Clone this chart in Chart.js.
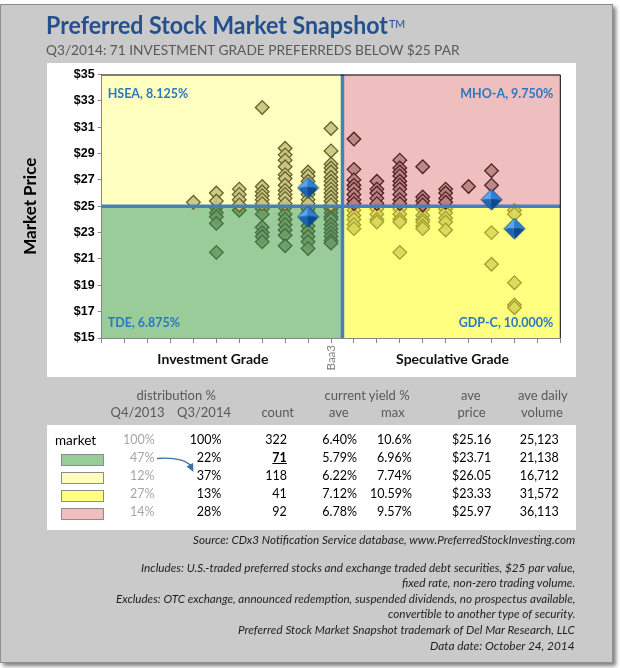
<!DOCTYPE html>
<html>
<head>
<meta charset="utf-8">
<script src="https://cdn.jsdelivr.net/npm/chart.js@4.4.0/dist/chart.umd.min.js"></script>
<style>
html,body{margin:0;padding:0;background:#fff;width:620px;height:668px;overflow:hidden;font-family:Lato,'Open Sans',sans-serif;}
#frame{position:absolute;left:0;top:4px;width:613px;height:659px;background:#cacaca;border:1px solid #8f8f8f;box-sizing:border-box;box-shadow:3px 3px 4px rgba(0,0,0,0.5);}
#chartBox{position:absolute;left:47px;top:63px;width:529px;height:314px;background:#fff;}
#tableBox{position:absolute;left:47px;top:425px;width:529px;height:105px;background:#fff;}
#c{position:absolute;left:0;top:0;}
.sw{position:absolute;width:43px;height:12px;border:1px solid #8c8c8c;box-sizing:border-box;}
.t{position:absolute;white-space:nowrap;}
svg{position:absolute;left:0;top:0;}
</style>
</head>
<body>
<div id="frame"></div>
<div id="chartBox"></div>
<div id="tableBox"></div>
<canvas id="c" width="620" height="390"></canvas>
<svg width="620" height="668">
  <path d="M157,458.5 C172,457.5 184,459 190.5,465" fill="none" stroke="#3f6ea8" stroke-width="1.3"/>
  <polygon points="193.5,472 186.5,466.5 193,463" fill="#3f6ea8"/>
</svg>
<script>
// ---------------- DATA ----------------
const chartTitle = 'Preferred Stock Market Snapshot';
const chartSubtitle = 'Q3/2014: 71 INVESTMENT GRADE PREFERREDS BELOW $25 PAR';
const yTitle = 'Market Price';
const xTitles = ['Investment Grade', 'Speculative Grade'];
const baaSlot = 10;
const baaLabel = 'Baa3';
const parValue = 25;
const gradeSplit = 10.5;
const yMin = 15, yMax = 35, yStep = 2;
const xMin = 0, xMax = 20;

// rating slots (x) and market prices (y) of each preferred
const igSlots = [4, 5, 6, 7, 8, 9, 10];
const igPrices = [
  [25.3],
  [26.0, 25.4, 24.9, 24.5, 24.2, 23.7, 21.5],
  [26.3, 25.9, 25.5, 25.1, 24.7],
  [32.5, 26.5, 26.1, 25.8, 25.5, 25.2, 24.8, 24.4, 23.4, 23.0, 22.7, 22.3],
  [29.4, 28.9, 28.5, 28.0, 27.4, 27.1, 26.6, 26.2, 25.9, 25.6, 25.2, 24.9, 24.4, 24.0, 23.6, 23.2, 22.8, 22.0],
  [27.6, 27.3, 26.9, 26.5, 26.2, 25.9, 25.5, 25.2, 24.8, 24.5, 24.0, 23.5, 23.1, 22.7, 22.3, 21.8],
  [30.9, 29.2, 28.2, 27.9, 27.6, 27.2, 26.9, 26.6, 26.3, 26.0, 25.7, 25.4, 25.1, 24.8, 24.5, 24.2, 24.0, 23.6, 23.3, 23.0, 22.7, 22.4, 22.2]
];
const specSlots = [11, 12, 13, 14, 15, 16, 17, 18];
const specPrices = [
  [30.1, 27.8, 27.0, 26.6, 26.3, 25.9, 25.5, 25.2, 24.7, 24.3, 24.0, 23.6, 23.3],
  [26.9, 26.3, 26.0, 25.6, 25.2, 24.8, 24.4, 24.0, 23.8],
  [28.5, 27.9, 27.6, 27.3, 26.9, 26.6, 26.3, 25.9, 25.5, 25.2, 24.8, 24.4, 24.0, 23.8, 21.5],
  [28.0, 25.7, 25.4, 25.1, 24.8, 24.3, 24.0, 23.8, 23.5, 23.3],
  [26.3, 26.0, 25.6, 25.3, 24.8, 24.5, 24.1, 23.8, 23.2],
  [26.5],
  [27.7, 26.6, 23.0, 20.6],
  [24.7, 24.4, 19.2, 17.5, 17.3]
];
const highlightNames = ['HSEA, 8.125%', 'MHO-A, 9.750%', 'TDE, 6.875%', 'GDP-C, 10.000%'];
const highlightSlots = [9, 17, 9, 18];
const highlightPrices = [26.4, 25.5, 24.2, 23.3];

// table
const headTop = ['distribution %', 'current yield %', 'ave', 'ave daily'];
const headBottom = ['Q4/2013', 'Q3/2014', 'count', 'ave', 'max', 'price', 'volume'];
const rowNames = ['market', 'ig-below', 'ig-above', 'spec-below', 'spec-above'];
const distQ4_2013 = ['100%', '47%', '12%', '27%', '14%'];
const distQ3_2014 = ['100%', '22%', '37%', '13%', '28%'];
const counts = ['322', '71', '118', '41', '92'];
const aveYield = ['6.40%', '5.79%', '6.22%', '7.12%', '6.78%'];
const maxYield = ['10.6%', '6.96%', '7.74%', '10.59%', '9.57%'];
const avePrice = ['$25.16', '$23.71', '$26.05', '$23.33', '$25.97'];
const aveVolume = ['25,123', '21,138', '16,712', '31,572', '36,113'];

const footerLines = [
  'Source:  CDx3 Notification Service database, www.PreferredStockInvesting.com',
  'Includes: U.S.-traded preferred stocks and exchange traded debt securities, $25 par value,',
  'fixed rate, non-zero trading volume.',
  'Excludes: OTC exchange, announced  redemption, suspended dividends, no prospectus available,',
  'convertible to another type of security.',
  'Preferred Stock Market Snapshot trademark of Del Mar Research, LLC',
  'Data date: October 24, 2014'
];

// ---------------- STYLE ----------------
const quadColors = { igAbove: '#ffffc0', igBelow: '#99cc99', specAbove: '#efbebe', specBelow: '#ffff80' };
const markFill = { igAbove: 'rgba(200,197,128,0.92)', igBelow: 'rgba(106,156,101,0.92)', specAbove: 'rgba(186,130,130,0.92)', specBelow: 'rgba(218,216,90,0.92)' };
const markLine = { igAbove: '#66612b', igBelow: '#456c40', specAbove: '#512020', specBelow: '#a39e30' };

function split(slots, prices, above) {
  const out = [];
  slots.forEach((s, i) => prices[i].forEach(p => { if ((p > parValue) === above) out.push({ x: s, y: p }); }));
  return out;
}

function blueDiamond() {
  const r = 10.5, c = document.createElement('canvas');
  c.width = 23; c.height = 23;
  const g = c.getContext('2d'), m = 11.5;
  const L = [m - r, m], T = [m, m - r], R = [m + r, m], B = [m, m + r], C = [m - 1, m - 1];
  const tri = (a, b, col) => { g.beginPath(); g.moveTo(C[0], C[1]); g.lineTo(a[0], a[1]); g.lineTo(b[0], b[1]); g.closePath(); g.fillStyle = col; g.fill(); };
  tri(L, T, '#5aa6ee'); tri(T, R, '#2a80d6'); tri(L, B, '#1d66b6'); tri(R, B, '#0c4a90');
  g.beginPath(); g.moveTo(L[0], L[1]); g.lineTo(T[0], T[1]); g.lineTo(R[0], R[1]); g.lineTo(B[0], B[1]); g.closePath();
  g.strokeStyle = '#0d3f7a'; g.lineWidth = 0.8; g.stroke();
  return c;
}

function ds(key, data) {
  return { label: key, data, pointStyle: 'rectRot', pointRadius: 6.8, borderWidth: 1.3,
    backgroundColor: markFill[key], borderColor: markLine[key] };
}

const highlightData = highlightSlots.map((s, i) => ({ x: s, y: highlightPrices[i] }));

const quadPlugin = {
  id: 'quads',
  beforeDraw(chart) {
    const { ctx, chartArea: a, scales: { x, y } } = chart;
    const xm = x.getPixelForValue(gradeSplit), ym = y.getPixelForValue(parValue);
    ctx.save();
    ctx.fillStyle = quadColors.igAbove; ctx.fillRect(a.left, a.top, xm - a.left, ym - a.top);
    ctx.fillStyle = quadColors.specAbove; ctx.fillRect(xm, a.top, a.right - xm, ym - a.top);
    ctx.fillStyle = quadColors.igBelow; ctx.fillRect(a.left, ym, xm - a.left, a.bottom - ym);
    ctx.fillStyle = quadColors.specBelow; ctx.fillRect(xm, ym, a.right - xm, a.bottom - ym);
    ctx.restore();
  },
  beforeDatasetDraw(chart, args) {
    if (args.index !== 0) return;
    const { ctx, chartArea: a, scales: { x, y } } = chart;
    const xm = x.getPixelForValue(gradeSplit), ym = y.getPixelForValue(parValue);
    ctx.save();
    ctx.strokeStyle = '#4a7ebb'; ctx.lineWidth = 3.5;
    ctx.beginPath(); ctx.moveTo(a.left, ym); ctx.lineTo(a.right, ym); ctx.stroke();
    ctx.beginPath(); ctx.moveTo(xm, a.top); ctx.lineTo(xm, a.bottom); ctx.stroke();
    ctx.strokeStyle = '#000'; ctx.lineWidth = 1;
    ctx.beginPath(); ctx.moveTo(a.left, a.top + 0.5); ctx.lineTo(a.right, a.top + 0.5); ctx.lineTo(a.right, a.bottom); ctx.stroke();
    // quadrant labels
    ctx.font = 'bold 12.5px Lato';
    ctx.fillStyle = '#2a78c2';
    ctx.textBaseline = 'alphabetic';
    highlightNames.forEach((n, i) => {
      const left = highlightSlots[i] < gradeSplit, top = highlightPrices[i] > parValue;
      ctx.textAlign = left ? 'left' : 'right';
      const tx = left ? a.left + 6 : a.right - 7;
      const ty = top ? a.top + 23 : a.bottom - 11;
      ctx.fillText(n, tx, ty);
    });
    ctx.restore();
  },
  afterDraw(chart) {
    const { ctx, scales: { x } } = chart;
    ctx.save();
    ctx.font = 'bold 14px Lato'; ctx.fillStyle = '#111';
    ctx.textAlign = 'center'; ctx.textBaseline = 'alphabetic';
    ctx.fillText(xTitles[0], x.getPixelForValue(4.85), 363.5);
    ctx.fillText(xTitles[1], x.getPixelForValue(15.3), 363.5);
    ctx.restore();
  }
};

new Chart(document.getElementById('c'), {
  type: 'scatter',
  data: {
    datasets: [
      { label: 'highlight', data: highlightData, pointStyle: blueDiamond(), pointRadius: 10 },
      ds('igAbove', split(igSlots, igPrices, true)),
      ds('igBelow', split(igSlots, igPrices, false)),
      ds('specAbove', split(specSlots, specPrices, true)),
      ds('specBelow', split(specSlots, specPrices, false))
    ]
  },
  options: {
    responsive: false, animation: false, devicePixelRatio: 1,
    layout: { padding: { top: 74.5, right: 59.7, left: 0, bottom: 0 } },
    plugins: { legend: { display: false }, tooltip: { enabled: false } },
    scales: {
      x: {
        type: 'linear', min: xMin, max: xMax,
        afterFit: s => { s.height = 52; },
        grid: { drawOnChartArea: false, drawTicks: true, tickLength: 5, color: '#868686' },
        border: { color: '#868686' },
        ticks: { stepSize: 1, autoSkip: false, maxRotation: 90, minRotation: 90, padding: 2, color: '#7f7f7f',
          font: { family: 'Lato', size: 11.5 }, callback: v => v === baaSlot ? baaLabel : '' }
      },
      y: {
        min: yMin, max: yMax,
        afterFit: s => { s.width = 101.7; },
        grid: { drawOnChartArea: false, tickLength: 4, color: '#868686' },
        border: { color: '#868686' },
        ticks: { stepSize: yStep, padding: 3, color: '#000',
          font: { family: 'Liberation Sans', weight: 'bold', size: 12.5 }, callback: v => '$' + v },
        title: { display: true, text: yTitle, color: '#000', font: { family: 'Lato', weight: 'bold', size: 17 },
          padding: { top: 20, bottom: 0 } }
      }
    }
  },
  plugins: [quadPlugin]
});

// ---------------- HTML TEXT ----------------
function addText(txt, o) {
  const d = document.createElement('div');
  d.className = 't';
  if (o.html) d.innerHTML = txt; else d.textContent = txt;
  d.style.font = `${o.style || 'normal'} ${o.weight || 'normal'} ${o.size}px ${o.family || 'Lato'}`;
  d.style.lineHeight = o.size + 'px';
  d.style.color = o.color || '#000';
  if (o.deco) d.style.textDecoration = o.deco;
  document.body.appendChild(d);
  const w = d.offsetWidth;
  const sx = o.width ? o.width / w : (o.sx || 1);
  const ww = w * sx;
  let left = o.x;
  if (o.align === 'right') left = o.x - ww; else if (o.align === 'center') left = o.x - ww / 2;
  d.style.transformOrigin = '0 50%';
  if (sx !== 1) d.style.transform = `scaleX(${sx})`;
  d.style.left = left + 'px';
  d.style.top = (o.y - 0.53 * o.size) + 'px';
  return d;
}

addText(chartTitle + '<span style="font-size:11px;font-weight:normal;vertical-align:0.55em;margin-left:1px">TM</span>',
  { html: true, x: 46, y: 24.7, size: 24, weight: 'bold', color: '#24508f', width: 359 });
addText(chartSubtitle, { x: 46, y: 50, size: 14, color: '#595959', width: 414 });

const hc = '#595959';
addText(headTop[0], { x: 176, y: 396, size: 13, color: hc, align: 'center' });
addText(headTop[1], { x: 367, y: 396, size: 13, color: hc, align: 'center' });
addText(headTop[2], { x: 471, y: 396, size: 13, color: hc, align: 'center' });
addText(headTop[3], { x: 543, y: 396, size: 13, color: hc, align: 'center' });
[137.5, 204, 278, 339, 393, 471.5, 542].forEach((cx, i) =>
  addText(headBottom[i], { x: cx, y: 413.3, size: 13, color: hc, align: 'center' }));

const swatch = [null, quadColors.igBelow, quadColors.igAbove, quadColors.specBelow, quadColors.specAbove];
rowNames.forEach((n, i) => {
  const ry = 441 + i * 18;
  if (i === 0) addText(n, { x: 55, y: ry, size: 13.5, color: '#000' });
  else {
    const s = document.createElement('div');
    s.className = 'sw'; s.style.left = '61px'; s.style.top = (ry - 5.5) + 'px'; s.style.background = swatch[i];
    document.body.appendChild(s);
  }
  addText(distQ4_2013[i], { x: 155, y: ry, size: 12.5, color: '#a6a6a6', align: 'right' });
  addText(distQ3_2014[i], { x: 221.7, y: ry, size: 12.5, align: 'right' });
  addText(counts[i], { x: 287.3, y: ry, size: 12.5, align: 'right', weight: i === 1 ? 'bold' : 'normal', deco: i === 1 ? 'underline' : '' });
  addText(aveYield[i], { x: 357.3, y: ry, size: 12.5, align: 'right' });
  addText(maxYield[i], { x: 412, y: ry, size: 12.5, align: 'right' });
  addText(avePrice[i], { x: 491, y: ry, size: 12.5, align: 'right' });
  addText(aveVolume[i], { x: 558.7, y: ry, size: 12.5, align: 'right' });
});

const footY = [540, 568, 583.5, 599, 614.5, 630, 646.5];
const footW = [382, 434, 173, 459, 187, 337, 145];
footerLines.forEach((l, i) =>
  addText(l, { x: 575, y: footY[i], size: 12, style: 'italic', color: '#1e1e1e', align: 'right', width: footW[i] }));
</script>
</body>
</html>
